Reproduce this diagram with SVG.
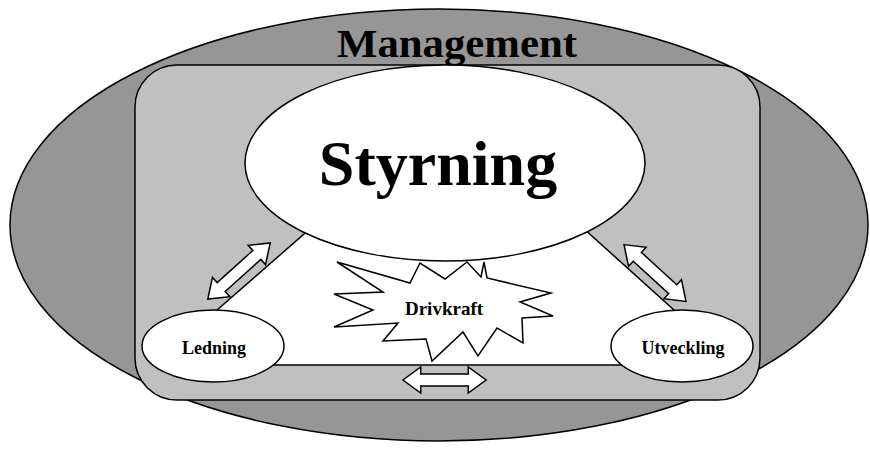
<svg xmlns="http://www.w3.org/2000/svg" width="870" height="450" viewBox="0 0 870 450">
  <defs>
    <style>
      .ln { stroke: #000; stroke-width: 1.5; }
      .wh { fill: #fff; stroke: #000; stroke-width: 1.5; stroke-linejoin: miter; }
      .lbl { font-family: "Liberation Serif", "Times New Roman", serif; font-weight: bold; fill: #000; text-anchor: middle; }
    </style>
    <!-- double-headed block arrow, centred on the origin, pointing along x -->
    <polygon id="dblArrow" class="wh" points="-42,0 -24,-13 -24,-6 24,-6 24,-13 42,0 24,13 24,6 -24,6 -24,13"/>
  </defs>

  <!-- outer field -->
  <g id="management">
    <ellipse cx="439" cy="225" rx="429" ry="216" fill="#969696" class="ln"/>
    <text class="lbl" x="457" y="57" font-size="40" textLength="240" lengthAdjust="spacingAndGlyphs">Management</text>
  </g>

  <!-- inner frame -->
  <g id="frame">
    <rect x="135" y="65" width="625" height="335" rx="42" ry="42" fill="#c0c0c0" class="ln"/>
  </g>

  <!-- central white field -->
  <g id="field">
    <polygon points="343,200 552,200 735,365 154,365" fill="#fff" class="ln"/>
  </g>

  <g id="styrning">
    <ellipse cx="445" cy="163" rx="200" ry="98" fill="#fff" class="ln"/>
    <text class="lbl" x="438" y="185" font-size="64">Styrning</text>
  </g>

  <g id="drivkraft">
    <polygon class="wh" points="337,262 410,283 420,263 445,279 467,262 481,277 484,262 487,278 551,293 520,302 553,316 522,318 523,343 497,328 478,356 463,332 432,361 426,339 383,341 398,323 334,327 373,310 334,294 383,292"/>
    <text class="lbl" x="444" y="315" font-size="19">Drivkraft</text>
  </g>

  <g id="ledning">
    <ellipse cx="213" cy="346" rx="71" ry="36" fill="#fff" class="ln"/>
    <text class="lbl" x="214" y="354" font-size="18">Ledning</text>
  </g>

  <g id="utveckling">
    <ellipse cx="682" cy="346" rx="71" ry="36" fill="#fff" class="ln"/>
    <text class="lbl" x="683" y="354" font-size="18">Utveckling</text>
  </g>

  <!-- connectors -->
  <g id="connectors">
    <use href="#dblArrow" transform="translate(239,271) rotate(-42)"/>
    <use href="#dblArrow" transform="translate(655,273) rotate(42.5)"/>
    <use href="#dblArrow" transform="translate(444.5,380) scale(0.99,1)"/>
  </g>
</svg>
